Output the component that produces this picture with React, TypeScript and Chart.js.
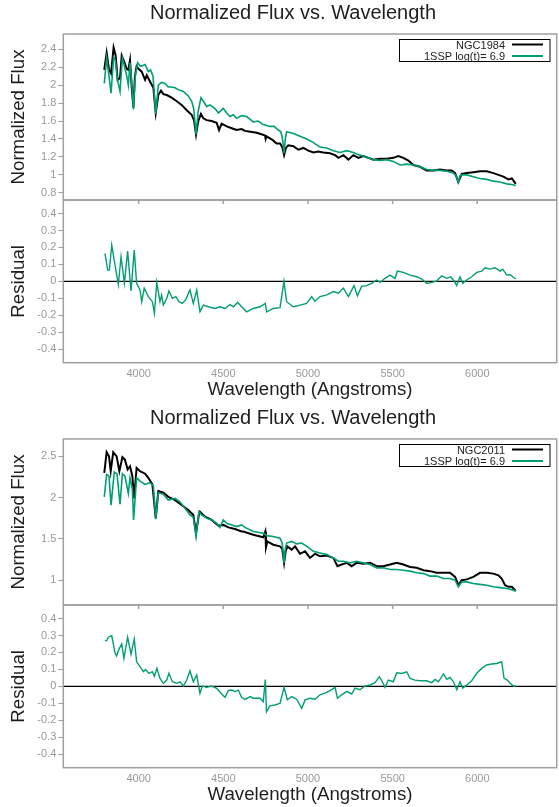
import React, { useEffect, useRef } from 'react';
import { Chart, registerables } from 'chart.js';
Chart.register(...registerables);

const FONT = '"Liberation Sans", Arial, Helvetica, sans-serif';
const GREEN = '#009E73';
const FRAME = '#a0a0a0';
const TICK_COLOR = '#999999';
const TEXT = '#1e1e1e';

const X_MIN = 3555;
const X_MAX = 6469;
const xTicks = [4000, 4500, 5000, 5500, 6000];
const fluxTicksTop = [0.8, 1, 1.2, 1.4, 1.6, 1.8, 2, 2.2, 2.4];
const fluxTicksBottom = [1, 1.5, 2, 2.5];
const residualTicks = [-0.4, -0.3, -0.2, -0.1, 0, 0.1, 0.2, 0.3, 0.4];

const titleText = 'Normalized Flux vs. Wavelength';
const modelLabel = '1SSP log(t)= 6.9';

// ---------- Panel 1: NGC1984 ----------
const wlObs1 = [3797, 3811, 3825, 3837, 3852, 3864, 3876, 3890, 3900, 3915, 3930, 3939, 3949, 3960, 3969, 3978, 3988, 4000, 4018, 4038, 4048, 4067, 4087, 4101, 4116, 4132, 4146, 4166, 4195, 4225, 4254, 4284, 4313, 4327, 4339, 4352, 4368, 4382, 4402, 4431, 4461, 4475, 4490, 4520, 4550, 4579, 4608, 4628, 4660, 4697, 4730, 4746, 4750, 4755, 4790, 4815, 4835, 4848, 4859, 4870, 4884, 4914, 4943, 4973, 5002, 5032, 5061, 5091, 5130, 5160, 5180, 5209, 5239, 5268, 5298, 5327, 5357, 5386, 5426, 5465, 5504, 5534, 5563, 5593, 5623, 5662, 5701, 5741, 5780, 5820, 5849, 5869, 5888, 5908, 5938, 5977, 6016, 6056, 6095, 6125, 6154, 6184, 6204, 6227];
const fluxObs1 = [2.17, 2.36, 2.17, 2.13, 2.42, 2.33, 2.06, 2.08, 2.33, 2.26, 2.18, 2.17, 2.28, 1.95, 1.75, 2.10, 2.21, 2.18, 2.15, 2.06, 2.11, 2.04, 1.97, 1.69, 1.89, 1.94, 1.90, 1.89, 1.86, 1.82, 1.78, 1.72, 1.67, 1.61, 1.45, 1.60, 1.68, 1.63, 1.61, 1.60, 1.58, 1.50, 1.57, 1.54, 1.52, 1.50, 1.51, 1.49, 1.48, 1.47, 1.45, 1.44, 1.40, 1.43, 1.39, 1.35, 1.35, 1.31, 1.22, 1.30, 1.33, 1.32, 1.28, 1.30, 1.27, 1.25, 1.26, 1.25, 1.24, 1.22, 1.19, 1.22, 1.17, 1.22, 1.19, 1.21, 1.19, 1.17, 1.18, 1.18, 1.19, 1.21, 1.19, 1.16, 1.11, 1.09, 1.05, 1.05, 1.06, 1.05, 1.05, 1.02, 0.92, 1.01, 1.02, 1.03, 1.04, 1.04, 1.02, 1.00, 0.98, 0.95, 0.96, 0.90];

const wlMod1 = [3797, 3811, 3825, 3837, 3852, 3862, 3876, 3890, 3904, 3915, 3930, 3939, 3949, 3960, 3969, 3980, 3994, 4010, 4025, 4038, 4057, 4070, 4085, 4101, 4116, 4136, 4156, 4175, 4195, 4215, 4234, 4264, 4293, 4313, 4325, 4339, 4352, 4368, 4382, 4402, 4421, 4451, 4471, 4500, 4520, 4540, 4559, 4579, 4608, 4638, 4677, 4706, 4736, 4775, 4800, 4825, 4840, 4850, 4859, 4866, 4874, 4914, 4953, 4993, 5032, 5071, 5111, 5150, 5189, 5229, 5268, 5307, 5347, 5386, 5426, 5465, 5504, 5544, 5583, 5623, 5662, 5701, 5741, 5780, 5820, 5859, 5878, 5888, 5898, 5908, 5938, 5977, 6016, 6056, 6095, 6134, 6174, 6213, 6227];
const fluxMod1 = [2.02, 2.30, 2.10, 1.91, 2.31, 2.28, 2.05, 1.93, 2.30, 2.22, 2.10, 2.00, 2.25, 2.00, 1.73, 2.10, 2.25, 2.21, 2.22, 2.23, 2.15, 2.17, 2.10, 1.68, 2.00, 2.03, 2.02, 1.98, 1.98, 1.97, 1.95, 1.93, 1.88, 1.82, 1.74, 1.45, 1.71, 1.86, 1.82, 1.76, 1.78, 1.74, 1.69, 1.74, 1.69, 1.65, 1.67, 1.63, 1.66, 1.65, 1.59, 1.60, 1.56, 1.54, 1.54, 1.50, 1.48, 1.40, 1.24, 1.40, 1.48, 1.46, 1.43, 1.40, 1.36, 1.31, 1.30, 1.27, 1.25, 1.27, 1.25, 1.22, 1.20, 1.17, 1.16, 1.17, 1.15, 1.11, 1.12, 1.11, 1.09, 1.06, 1.05, 1.05, 1.04, 1.02, 0.98, 0.92, 0.99, 1.00, 1.00, 0.98, 0.96, 0.95, 0.93, 0.92, 0.90, 0.89, 0.88];

const wlRes1 = [3801, 3817, 3827, 3841, 3880, 3896, 3916, 3935, 3955, 3974, 3988, 4008, 4018, 4033, 4057, 4081, 4093, 4107, 4126, 4136, 4146, 4166, 4179, 4199, 4219, 4238, 4258, 4278, 4303, 4323, 4343, 4362, 4382, 4411, 4451, 4480, 4510, 4540, 4560, 4585, 4608, 4638, 4677, 4717, 4748, 4756, 4795, 4835, 4858, 4874, 4913, 4953, 4992, 5022, 5041, 5071, 5111, 5150, 5180, 5209, 5239, 5272, 5292, 5317, 5346, 5376, 5406, 5426, 5455, 5485, 5514, 5528, 5563, 5603, 5642, 5672, 5702, 5731, 5760, 5790, 5820, 5843, 5863, 5878, 5898, 5914, 5937, 5967, 5997, 6026, 6046, 6075, 6105, 6134, 6150, 6174, 6194, 6209, 6227];
const res1 = [0.165, 0.066, 0.066, 0.213, -0.02, 0.145, -0.012, 0.178, -0.057, 0.184, -0.012, -0.051, -0.12, -0.041, -0.09, -0.12, -0.188, -0.006, -0.12, -0.081, -0.14, -0.1, -0.057, -0.1, -0.09, -0.12, -0.13, -0.108, -0.051, -0.13, -0.051, -0.179, -0.14, -0.15, -0.16, -0.15, -0.16, -0.137, -0.15, -0.123, -0.15, -0.18, -0.16, -0.15, -0.13, -0.18, -0.16, -0.155, 0.0, -0.12, -0.15, -0.14, -0.13, -0.09, -0.117, -0.09, -0.08, -0.06, -0.07, -0.04, -0.09, -0.025, -0.085, -0.03, -0.025, -0.012, 0.008, -0.006, 0.018, 0.037, 0.018, 0.06, 0.053, 0.037, 0.027, 0.014, -0.012, -0.006, 0.002, 0.033, 0.018, 0.027, 0.002, -0.025, 0.027, -0.012, 0.008, 0.027, 0.053, 0.06, 0.08, 0.072, 0.08, 0.06, 0.072, 0.037, 0.04, 0.027, 0.014];

// ---------- Panel 2: NGC2011 ----------
const wlObs2 = [3797, 3811, 3825, 3835, 3850, 3870, 3886, 3904, 3919, 3935, 3949, 3963, 3973, 3988, 4008, 4038, 4057, 4081, 4101, 4116, 4146, 4175, 4215, 4254, 4293, 4323, 4339, 4356, 4362, 4392, 4431, 4471, 4500, 4530, 4569, 4608, 4618, 4677, 4736, 4748, 4752, 4760, 4795, 4835, 4848, 4859, 4868, 4878, 4904, 4924, 4953, 4983, 5012, 5042, 5071, 5111, 5150, 5174, 5199, 5229, 5258, 5288, 5327, 5367, 5406, 5445, 5485, 5524, 5563, 5603, 5642, 5682, 5721, 5760, 5800, 5839, 5869, 5888, 5908, 5938, 5977, 6016, 6056, 6095, 6125, 6144, 6164, 6184, 6204, 6227];
const fluxObs2 = [2.30, 2.55, 2.50, 2.32, 2.55, 2.50, 2.32, 2.49, 2.46, 2.34, 2.38, 2.26, 1.99, 2.36, 2.32, 2.29, 2.24, 2.16, 1.75, 2.08, 2.06, 2.01, 1.97, 1.91, 1.85, 1.79, 1.57, 1.80, 1.83, 1.77, 1.73, 1.66, 1.67, 1.64, 1.62, 1.59, 1.59, 1.55, 1.52, 1.59, 1.40, 1.47, 1.43, 1.41, 1.38, 1.21, 1.35, 1.41, 1.37, 1.41, 1.32, 1.35, 1.27, 1.32, 1.29, 1.30, 1.27, 1.17, 1.19, 1.21, 1.17, 1.21, 1.20, 1.21, 1.17, 1.17, 1.19, 1.21, 1.19, 1.16, 1.15, 1.12, 1.11, 1.09, 1.09, 1.09, 1.04, 0.94, 1.00, 1.01, 1.04, 1.09, 1.09, 1.08, 1.06, 1.02, 0.94, 0.92, 0.92, 0.87];

const wlMod2 = [3797, 3811, 3825, 3837, 3856, 3872, 3890, 3904, 3919, 3939, 3949, 3963, 3970, 3988, 4008, 4038, 4067, 4087, 4101, 4116, 4146, 4175, 4215, 4244, 4274, 4303, 4323, 4339, 4356, 4372, 4402, 4431, 4461, 4480, 4500, 4520, 4550, 4579, 4608, 4628, 4677, 4736, 4756, 4795, 4835, 4848, 4859, 4866, 4874, 4904, 4933, 4963, 4993, 5032, 5071, 5111, 5150, 5180, 5209, 5248, 5288, 5327, 5367, 5406, 5445, 5485, 5524, 5563, 5603, 5642, 5682, 5721, 5760, 5800, 5839, 5869, 5888, 5908, 5938, 5977, 6016, 6056, 6095, 6134, 6174, 6213, 6227];
const fluxMod2 = [2.01, 2.28, 2.26, 1.91, 2.31, 2.29, 1.92, 2.29, 2.26, 2.05, 2.24, 2.10, 1.73, 2.24, 2.20, 2.16, 2.18, 2.14, 1.74, 2.06, 2.04, 1.97, 1.99, 1.95, 1.87, 1.79, 1.76, 1.53, 1.83, 1.79, 1.75, 1.73, 1.69, 1.64, 1.73, 1.69, 1.67, 1.65, 1.67, 1.64, 1.59, 1.57, 1.54, 1.53, 1.51, 1.45, 1.21, 1.38, 1.45, 1.47, 1.44, 1.45, 1.41, 1.35, 1.33, 1.31, 1.27, 1.23, 1.23, 1.21, 1.23, 1.21, 1.19, 1.15, 1.15, 1.13, 1.13, 1.12, 1.11, 1.09, 1.08, 1.05, 1.05, 1.02, 1.02, 1.00, 0.92, 0.98, 0.98, 0.96, 0.95, 0.94, 0.92, 0.91, 0.90, 0.88, 0.87];

const wlRes2 = [3801, 3811, 3821, 3841, 3860, 3870, 3884, 3900, 3913, 3935, 3955, 3974, 3988, 4008, 4028, 4041, 4061, 4081, 4093, 4108, 4126, 4146, 4166, 4179, 4199, 4225, 4244, 4264, 4284, 4303, 4323, 4343, 4362, 4376, 4402, 4431, 4461, 4490, 4510, 4530, 4550, 4569, 4589, 4608, 4628, 4659, 4677, 4717, 4736, 4748, 4755, 4775, 4805, 4835, 4859, 4878, 4904, 4933, 4963, 4983, 5012, 5042, 5071, 5101, 5130, 5160, 5174, 5199, 5229, 5258, 5278, 5307, 5337, 5367, 5396, 5422, 5436, 5455, 5475, 5504, 5524, 5554, 5583, 5603, 5632, 5662, 5701, 5731, 5751, 5770, 5800, 5820, 5839, 5859, 5879, 5898, 5914, 5938, 5967, 5997, 6026, 6056, 6085, 6115, 6144, 6158, 6178, 6194, 6213, 6227];
const res2 = [0.27, 0.27, 0.29, 0.30, 0.20, 0.18, 0.22, 0.25, 0.165, 0.29, 0.19, 0.28, 0.145, 0.116, 0.087, 0.10, 0.077, 0.087, 0.06, 0.106, 0.047, 0.018, 0.037, 0.077, 0.027, 0.018, 0.027, 0.002, 0.037, 0.092, 0.027, 0.067, -0.041, 0.002, -0.006, 0.002, -0.012, -0.045, -0.065, -0.025, -0.022, -0.031, -0.022, -0.065, -0.077, -0.06, -0.07, -0.07, -0.09, 0.04, -0.15, -0.115, -0.11, -0.10, -0.006, -0.08, -0.06, -0.076, -0.13, -0.08, -0.07, -0.076, -0.05, -0.04, -0.025, -0.006, -0.07, -0.05, -0.03, -0.045, -0.01, -0.02, 0.002, 0.008, 0.022, 0.057, 0.033, -0.006, 0.037, 0.027, 0.08, 0.076, 0.086, 0.047, 0.037, 0.033, 0.033, 0.022, 0.041, 0.027, 0.073, 0.041, 0.053, 0.027, -0.02, 0.027, -0.01, 0.008, 0.033, 0.077, 0.106, 0.126, 0.132, 0.135, 0.145, 0.047, 0.037, 0.018, 0.002, 0.002];

// ---------- layout ----------
const PLOT_LEFT = 63.3;
const PLOT_RIGHT_PAD = 2.3;
const FLUX_TOP = 34;
const FLUX_BOTTOM = 200;
const FLUX_H = 220;
const RES_TOP = 200;
const RES_BOTTOM = 362.7;
const RES_CANVAS_TOP = 180;
const RES_H = 222;

function pts(xs: number[], ys: number[]) {
  return xs.map((x, i) => ({ x, y: ys[i] }));
}
function fmt(v: number) {
  const r = Math.round(v * 10) / 10;
  return String(r === 0 ? 0 : r);
}

const decoPlugin = {
  id: 'deco',
  beforeDatasetsDraw(chart: any, _a: any, opts: any) {
    const { ctx, chartArea: a, scales } = chart;
    if (opts.zeroLine) {
      const y = scales.y.getPixelForValue(0);
      ctx.save();
      ctx.strokeStyle = '#000';
      ctx.lineWidth = 1.4;
      ctx.beginPath();
      ctx.moveTo(a.left, y);
      ctx.lineTo(a.right, y);
      ctx.stroke();
      ctx.restore();
    }
  },
  afterDraw(chart: any, _a: any, opts: any) {
    const { ctx, chartArea: a, scales } = chart;
    ctx.save();
    ctx.strokeStyle = FRAME;
    ctx.lineWidth = 1.5;
    ctx.strokeRect(a.left, a.top, a.right - a.left, a.bottom - a.top);
    if (opts.topTicks) {
      ctx.beginPath();
      for (const v of xTicks) {
        const x = scales.x.getPixelForValue(v);
        ctx.moveTo(x, a.top);
        ctx.lineTo(x, a.top + 4);
      }
      ctx.stroke();
    }
    if (opts.title) {
      ctx.fillStyle = TEXT;
      ctx.font = `20px ${FONT}`;
      ctx.textAlign = 'center';
      ctx.textBaseline = 'alphabetic';
      ctx.fillText(opts.title, 293, 18.5);
    }
    if (opts.legend) {
      const L = opts.legend;
      ctx.strokeStyle = '#000';
      ctx.lineWidth = 1;
      ctx.strokeRect(399.5, 39.5, 150.5, 22);
      ctx.font = `11px ${FONT}`;
      ctx.fillStyle = TEXT;
      ctx.textAlign = 'right';
      L.forEach((item: any, i: number) => {
        const cy = 44.5 + i * 11.5;
        ctx.fillText(item.label, 505, cy + 4);
        ctx.strokeStyle = item.color;
        ctx.lineWidth = 2;
        ctx.beginPath();
        ctx.moveTo(512, cy);
        ctx.lineTo(543, cy);
        ctx.stroke();
      });
    }
    ctx.restore();
  },
};

function yAxis(min: number, max: number, ticks: number[], title: string) {
  return {
    type: 'linear',
    min,
    max,
    afterFit: (s: any) => {
      s.width = PLOT_LEFT;
    },
    afterBuildTicks: (s: any) => {
      s.ticks = ticks.map((v) => ({ value: v }));
    },
    ticks: {
      color: TICK_COLOR,
      font: { size: 11, family: FONT },
      padding: 2,
      callback: (v: any) => fmt(Number(v)),
    },
    grid: { drawOnChartArea: false, drawTicks: true, tickLength: 5, color: FRAME, tickColor: FRAME, tickWidth: 1 },
    border: { display: false },
    title: {
      display: true,
      text: title,
      color: TEXT,
      font: { size: 18.7, family: FONT },
      padding: { top: 8, bottom: 0 },
    },
  };
}

interface PanelProps {
  top: number;
  name: string;
  wlObs: number[];
  fObs: number[];
  wlMod: number[];
  fMod: number[];
  wlRes: number[];
  res: number[];
  yMin: number;
  yMax: number;
  yTicks: number[];
}

function Panel(p: PanelProps) {
  const fluxRef = useRef<HTMLCanvasElement>(null);
  const resRef = useRef<HTMLCanvasElement>(null);

  useEffect(() => {
    const flux = new Chart(fluxRef.current as HTMLCanvasElement, {
      type: 'line',
      data: {
        datasets: [
          { label: modelLabel, data: pts(p.wlMod, p.fMod), borderColor: GREEN, borderWidth: 1.6, pointRadius: 0, tension: 0, order: 0 },
          { label: p.name, data: pts(p.wlObs, p.fObs), borderColor: '#000', borderWidth: 2, pointRadius: 0, tension: 0, order: 1 },
        ],
      },
      options: {
        animation: false,
        responsive: false,
        events: [],
        layout: { padding: { top: FLUX_TOP, bottom: FLUX_H - FLUX_BOTTOM, left: 0, right: PLOT_RIGHT_PAD } },
        plugins: {
          legend: { display: false },
          tooltip: { enabled: false },
          deco: {
            title: titleText,
            legend: [
              { label: p.name, color: '#000' },
              { label: modelLabel, color: GREEN },
            ],
          },
        } as any,
        scales: {
          x: { type: 'linear', min: X_MIN, max: X_MAX, display: false },
          y: yAxis(p.yMin, p.yMax, p.yTicks, 'Normalized Flux') as any,
        },
      },
      plugins: [decoPlugin],
    });

    const resid = new Chart(resRef.current as HTMLCanvasElement, {
      type: 'line',
      data: {
        datasets: [
          { label: 'Residual', data: pts(p.wlRes, p.res), borderColor: GREEN, borderWidth: 1.4, pointRadius: 0, tension: 0 },
        ],
      },
      options: {
        animation: false,
        responsive: false,
        events: [],
        layout: { padding: { top: RES_TOP - RES_CANVAS_TOP, bottom: 0, left: 0, right: PLOT_RIGHT_PAD } },
        plugins: {
          legend: { display: false },
          tooltip: { enabled: false },
          deco: { zeroLine: true, topTicks: true },
        } as any,
        scales: {
          x: {
            type: 'linear',
            min: X_MIN,
            max: X_MAX,
            afterFit: (s: any) => {
              s.height = RES_H - (RES_BOTTOM - RES_CANVAS_TOP);
            },
            afterBuildTicks: (s: any) => {
              s.ticks = xTicks.map((v) => ({ value: v }));
            },
            grid: { display: false, drawTicks: false },
            border: { display: false },
            ticks: { color: TICK_COLOR, font: { size: 11, family: FONT }, padding: 4.7, maxRotation: 0, autoSkip: false, callback: (v: any) => String(v) },
            title: {
              display: true,
              text: 'Wavelength (Angstroms)',
              color: TEXT,
              font: { size: 18.7, family: FONT },
              padding: { top: 0, bottom: 0.5 },
            },
          } as any,
          y: yAxis(-0.48, 0.48, residualTicks, 'Residual') as any,
        },
      },
      plugins: [decoPlugin],
    });

    return () => {
      flux.destroy();
      resid.destroy();
    };
  }, []);

  return (
    <>
      <canvas ref={fluxRef} width={559} height={FLUX_H} style={{ position: 'absolute', left: 0, top: p.top, width: 559, height: FLUX_H }} />
      <canvas ref={resRef} width={559} height={RES_H} style={{ position: 'absolute', left: 0, top: p.top + RES_CANVAS_TOP, width: 559, height: RES_H }} />
    </>
  );
}

export default function App() {
  useEffect(() => {
    document.body.style.margin = '0';
  }, []);
  return (
    <div style={{ position: 'absolute', left: 0, top: 0, width: 559, height: 807, background: '#fff', overflow: 'hidden', fontFamily: FONT }}>
      <Panel top={0} name="NGC1984" wlObs={wlObs1} fObs={fluxObs1} wlMod={wlMod1} fMod={fluxMod1} wlRes={wlRes1} res={res1} yMin={0.72} yMax={2.57} yTicks={fluxTicksTop} />
      <Panel top={405} name="NGC2011" wlObs={wlObs2} fObs={fluxObs2} wlMod={wlMod2} fMod={fluxMod2} wlRes={wlRes2} res={res2} yMin={0.70} yMax={2.71} yTicks={fluxTicksBottom} />
    </div>
  );
}
